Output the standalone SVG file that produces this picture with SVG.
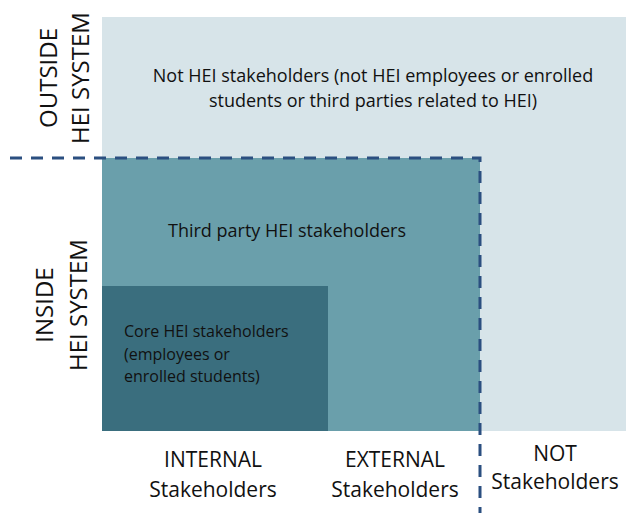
<svg xmlns="http://www.w3.org/2000/svg" width="626" height="513" viewBox="0 0 626 513">
<style>
text{font-family:"Open Sans","Liberation Sans",sans-serif;fill:#111}
.side{font-size:24px;text-anchor:middle}
.axis{font-size:21px;text-anchor:middle}
.body{font-size:18px}
.core{font-size:16px}
.dash{fill:none;stroke:#2b4f80;stroke-width:3;stroke-dasharray:12 9}
</style>
<rect width="626" height="513" fill="#fff"/>
<g id="not-stakeholders">
<rect x="102" y="17" width="524" height="414" fill="#d7e4e9"/>
<text class="body" text-anchor="middle" x="373" y="82">Not HEI stakeholders (not HEI employees or enrolled</text>
<text class="body" text-anchor="middle" x="373" y="107">students or third parties related to HEI)</text>
</g>
<g id="third-party">
<rect x="102" y="158" width="378" height="273" fill="#6a9fab"/>
<text class="body" text-anchor="middle" x="287" y="237">Third party HEI stakeholders</text>
</g>
<g id="core">
<rect x="102" y="286" width="226" height="145" fill="#3a6e7e"/>
<text class="core" x="124" y="337">Core HEI stakeholders</text>
<text class="core" x="124" y="360">(employees or</text>
<text class="core" x="124" y="382">enrolled students)</text>
</g>
<g id="connectors">
<path class="dash" d="M10 158H480V513"/>
</g>
<g id="labels">
<text class="side" transform="translate(57 78) rotate(-90)">OUTSIDE</text>
<text class="side" transform="translate(89 78) rotate(-90)">HEI SYSTEM</text>
<text class="side" transform="translate(53 305) rotate(-90)">INSIDE</text>
<text class="side" transform="translate(87 305) rotate(-90)">HEI SYSTEM</text>
<text class="axis" x="213" y="467">INTERNAL</text>
<text class="axis" x="213" y="497">Stakeholders</text>
<text class="axis" x="395" y="467">EXTERNAL</text>
<text class="axis" x="395" y="497">Stakeholders</text>
<text class="axis" x="555" y="461">NOT</text>
<text class="axis" x="555" y="489">Stakeholders</text>
</g>
</svg>
